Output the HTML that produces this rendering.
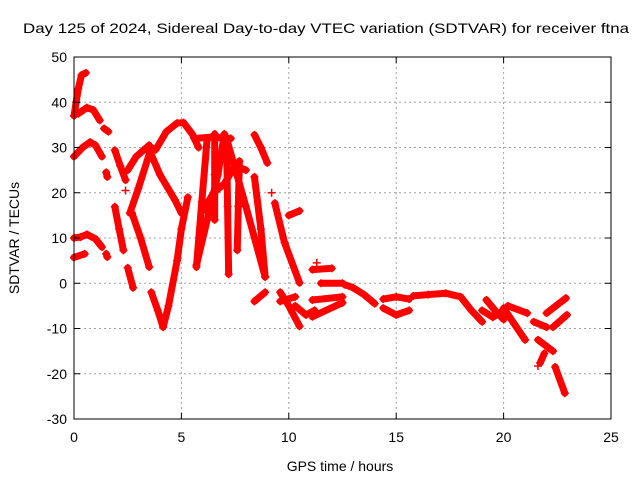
<!DOCTYPE html>
<html><head><meta charset="utf-8"><style>
html,body{margin:0;padding:0;background:#fff;}
svg{display:block;font-family:"Liberation Sans",sans-serif;}
</style></head><body>
<svg id="chart" width="640" height="480">
<text x="326" y="33" text-anchor="middle" font-size="14" textLength="606" lengthAdjust="spacingAndGlyphs" fill="#000">Day 125 of 2024, Sidereal Day-to-day VTEC variation (SDTVAR) for receiver ftna</text>
<text x="340" y="471" text-anchor="middle" font-size="14">GPS time / hours</text>
<text transform="translate(19,238) rotate(-90)" text-anchor="middle" font-size="14">SDTVAR / TECUs</text>
<g id="grid"></g><g id="marks"></g><g id="axes"></g>
</svg>
<script>
const xTicks=[0,5,10,15,20,25];
const yTicks=[-30,-20,-10,0,10,20,30,40,50];
const traceHours=[
[0.0,0.1,0.2,0.35,0.55],
[0.2,0.6,0.9,1.2],[1.4,1.6],
[0.0,0.4,0.75,1.0,1.3],
[0.0,0.3,0.6,1.0,1.3],
[0.0,0.5],[1.5,1.55],[1.5,1.55],
[1.9,2.15,2.4],[1.9,2.1,2.3],[2.5,2.75],
[2.5,2.9,3.5],[2.6,3.0,3.6],[2.7,3.1,3.5],
[3.5,4.0,4.7,5.0],
[3.6,3.9,4.15,4.4,4.8,5.0,5.3],
[3.8,4.3,4.8,5.1,5.5,5.8],
[6.2,5.95,5.7],[6.55,6.55,6.55],[7.1,7.15,7.2],[7.1,8.0,8.9],[7.7,7.65,7.6],
[8.4,8.7,9.0],[8.4,8.7,8.9],[9.35,9.8,10.5],[10.0,10.5],[8.4,8.9],
[5.6,6.4,7.3],[5.7,6.2,6.7,7.0],[6.0,6.5,7.0,7.5,8.0],
[9.6,10.0,10.5],[9.6,10.3],
[11.1,12.0],[11.5,12.5],[11.1,12.5],[11.1,12.5],[10.3,10.8,11.2],
[12.6,13.0,13.5,14.0],
[14.4,15.0,15.6],[14.4,15.0,15.6],
[15.8,16.5,17.3,18.0,18.5,19.0],
[19.2,19.6,20.0],[19.0,19.5,20.0],[20.0,20.5,21.0],
[20.2,21.1],[21.4,22.0],[21.6,22.3],[21.9,21.7],
[22.0,22.9],[22.3,22.95],[22.4,22.85]
];
const traceValues=[
[37,40,43,46,46.5],
[37.5,38.8,38.3,36],[34.2,33.5],
[28,30,31.2,30.5,28],
[10,10.2,10.8,9.8,8],
[5.7,6.5],[24.5,23.5],[6.5,5.8],
[29.4,26,22.8],[16.9,12,7.3],[3.4,-1],
[25,28,30.5],[15.5,21,30],[15.5,10,3.6],
[29.5,24,18.4,15.5],
[-2,-6,-9.7,-5,5,12,19],
[29.5,33.5,35.4,35.5,33,30],
[32,18,3.6],[33,24,14],[32,17,2],[32,17,1.4],[27,17,7.3],
[32.8,30,26.6],[23.5,12,1.4],[17.7,9,0.1],[15,16],[-4,-2],
[32,32.3,32],[4,14,24,33],[16,20,22,26,25],
[-2,-5,-9.5],[-4,-3],
[3,3.3],[0,0],[-3.7,-3],[-7.4,-4.3],[-5,-7,-6],
[-0.3,-1,-2.5,-4.5],
[-3.5,-3,-3.5],[-5.5,-7,-6],
[-2.8,-2.5,-2.2,-3,-6,-8.5],
[-3.7,-6,-8],[-6,-7.5,-6],[-5.5,-9,-12.5],
[-5,-6.6],[-8.5,-9.7],[-12.5,-15],[-15.5,-17.6],
[-6.6,-3.3],[-9.7,-7],[-18.5,-24.3]
];
const singleHours=[21.6,11.3,5.9,2.4,9.2];
const singleValues=[-18.3,4.5,12.5,20.5,20];

const L=74,R=611,T=57,B=419;
const xS=h=>L+(h-0)/(25-0)*(R-L);
const yS=v=>B-(v+30)/(50+30)*(B-T);
const NS="http://www.w3.org/2000/svg";
function mk(tag,attrs,parent){const e=document.createElementNS(NS,tag);for(const k in attrs)e.setAttribute(k,attrs[k]);parent.appendChild(e);return e;}
const grid=document.getElementById('grid'),marks=document.getElementById('marks'),axes=document.getElementById('axes');
xTicks.forEach(t=>{
  const x=xS(t);
  if(t>0&&t<25){const g=mk('line',{x1:x,x2:x,y1:T,y2:B,stroke:'#a0a0a0','stroke-dasharray':'2,3'},grid);
  
  }
  mk('line',{x1:x,x2:x,y1:B,y2:B-6,stroke:'#000'},axes);
  mk('line',{x1:x,x2:x,y1:T,y2:T+6,stroke:'#000'},axes);
  const tx=mk('text',{x:x,y:B+23,'text-anchor':'middle','font-size':'14'},axes);
  tx.textContent=t;
  
  
});
yTicks.forEach(t=>{
  const y=yS(t);
  if(t>-30&&t<50){const g=mk('line',{x1:L,x2:R,y1:y,y2:y,stroke:'#a0a0a0','stroke-dasharray':'2,3'},grid);
  
  }
  mk('line',{x1:L,x2:L+6,y1:y,y2:y,stroke:'#000'},axes);
  mk('line',{x1:R,x2:R-6,y1:y,y2:y,stroke:'#000'},axes);
  const tx=mk('text',{x:L-7,y:y+5,'text-anchor':'end','font-size':'14'},axes);
  tx.textContent=t;
  
  
});
const frame=mk('rect',{x:L,y:T,width:R-L,height:B-T,fill:'none',stroke:'#000'},axes);


function plus(x,y){const p=mk('path',{d:`M${x-4},${y}h8M${x},${y-4}v8`,stroke:'#f00','stroke-width':1.5},marks);

}
traceHours.forEach((hs,i)=>{
  const vs=traceValues[i];
  const pts=hs.map((h,j)=>xS(h)+','+yS(vs[j])).join(' ');
  const pl=mk('polyline',{points:pts,fill:'none',stroke:'#f00','stroke-width':7,'stroke-linejoin':'round','stroke-linecap':'round'},marks);
  
  
  hs.forEach((h,j)=>plus(xS(h),yS(vs[j])));
});
singleHours.forEach((h,i)=>plus(xS(h),yS(singleValues[i])));
</script>
</body></html>
